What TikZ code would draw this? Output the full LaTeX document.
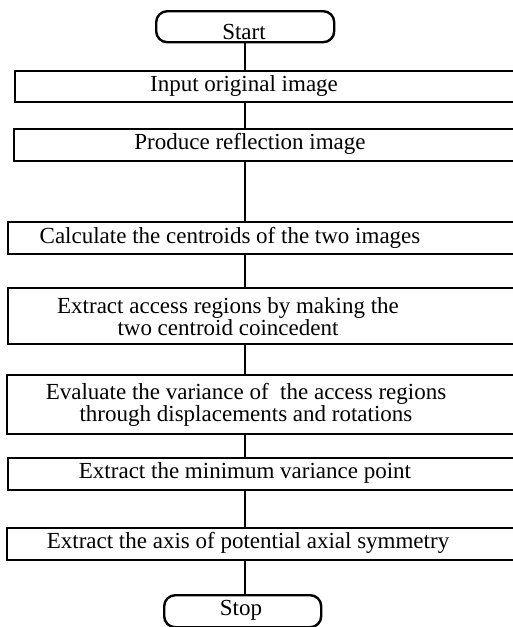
\documentclass[tikz,border=0pt]{standalone}
\usepackage{fontspec}
\setmainfont{Liberation Serif}

\tikzset{
  stepbox/.style={draw, line width=1.9pt, anchor=north west, minimum width=560pt, inner sep=0pt},
  termbox/.style={draw, line width=2.4pt, rounded corners=11pt, anchor=north west, inner sep=0pt},
  txt/.style={font=\fontsize{23}{22}\selectfont, align=center, inner sep=0pt},
  link/.style={line width=1.8pt}
}

\begin{document}
\begin{tikzpicture}[x=1pt, y=-1pt]
        \useasboundingbox (0,0) rectangle (513,627);
        \clip (0,0) rectangle (513,627);

        % start and stop
        \node[termbox, minimum width=178pt, minimum height=31pt](start) at (155,10){};
        \node[txt](starttxt) at (244,32){Start};
        \node[termbox, minimum width=157pt, minimum height=32pt](stop) at (163,594){};
        \node[txt](stoptxt) at (241,610){Stop};

        % steps, open to the right
        \node[stepbox, minimum height=31pt](input) at (14,70){};
        \node[txt](inputtxt) at (244,86){Input original image};
        \node[stepbox, minimum height=32pt](reflect) at (13,128){};
        \node[txt](reflecttxt) at (250,144){Produce reflection image};
        \node[stepbox, minimum height=32pt](centroid) at (7,221){};
        \node[txt](centroidtxt) at (230,238){Calculate the centroids of the two images};
        \node[stepbox, minimum height=56pt](access) at (7,287){};
        \node[txt](accesstxt) at (228,317){Extract access regions by making the\\two centroid coincedent};
        \node[stepbox, minimum height=59pt](variance) at (6,374){};
        \node[txt](variancetxt) at (246,405){Evaluate the variance of\ \ the access regions\\through displacements and rotations};
        \node[stepbox, minimum height=32pt](minvar) at (7,457){};
        \node[txt](minvartxt) at (245,473){Extract the minimum variance point};
        \node[stepbox, minimum height=32pt](axis) at (6,527){};
        \node[txt](axistxt) at (248,543){Extract the axis of potential axial symmetry};

        \draw[link](start.south) -- (start.south |- input.north);
        \foreach \a/\b in {input/reflect, reflect/centroid, centroid/access,
                access/variance, variance/minvar, minvar/axis}
                \draw[link](\a.south -| start) -- (\b.north -| start);
        \draw[link](axis.south -| start) -- (stop.north -| start);
\end{tikzpicture}
\end{document}
